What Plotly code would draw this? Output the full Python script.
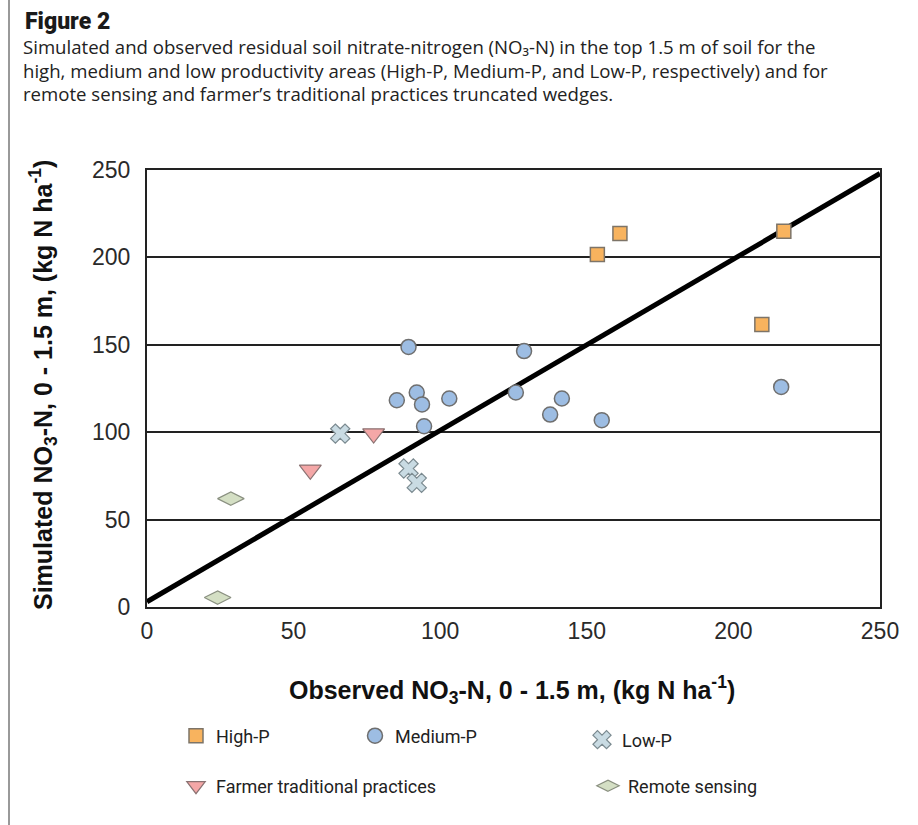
import plotly.graph_objects as go

# ---- data ----
high_x = [153.6, 161.3, 217.2, 209.7]
high_y = [201.7, 213.7, 215.0, 161.6]

med_x = [89.2, 128.6, 92.0, 85.2, 93.8, 103.1, 125.8, 141.5, 137.5, 155.1, 94.5, 216.3]
med_y = [148.8, 146.4, 122.7, 118.3, 115.9, 119.3, 122.7, 119.3, 110.1, 106.9, 103.4, 125.9]

low_x = [65.9, 89.2, 92.0]
low_y = [99.2, 79.2, 71.0]

farmer_x = [77.3, 55.7]
farmer_y = [99.2, 78.5]

remote_x = [28.6, 24.1]
remote_y = [62.0, 5.4]

line_x = [0, 250]
line_y = [3, 248]

tick_vals = [0, 50, 100, 150, 200, 250]

caption_lines = [
    "Simulated and observed residual soil nitrate-nitrogen (NO₃-N) in the top 1.5 m of soil for the",
    "high, medium and low productivity areas (High-P, Medium-P, and Low-P, respectively) and for",
    "remote sensing and farmer’s traditional practices truncated wedges.",
]

# ---- layout geometry (pixels) ----
W, H = 918, 825
L, R, T, B = 147, 38, 170, 218
pw, ph = W - L - R, H - T - B


def px(xp):
    return (xp - L) / pw


def py(yp):
    return (H - B - yp) / ph


fig = go.Figure()

fig.add_trace(go.Scatter(x=line_x, y=line_y, mode="lines",
                         line=dict(color="black", width=5), showlegend=False,
                         hoverinfo="skip"))

legend_font = dict(family="Roboto, Arial", size=18, color="#222")

series = [
    ("High-P", high_x, high_y, dict(symbol="square", size=14, color="#f8b35e",
                                   line=dict(color="#7d7468", width=1.5)), "legend"),
    ("Medium-P", med_x, med_y, dict(symbol="circle", size=15, color="#9dbde3",
                                   line=dict(color="#6f6f6f", width=1.5)), "legend2"),
    ("Low-P", low_x, low_y, dict(symbol="x", size=17, color="#c9dbe3",
                                line=dict(color="#7b8a90", width=1.2)), "legend3"),
    ("Farmer traditional practices", farmer_x, farmer_y,
     dict(symbol="triangle-down", size=19, color="#f4a7a7",
          line=dict(color="#8a7272", width=1.2)), "legend4"),
    ("Remote sensing", remote_x, remote_y,
     dict(symbol="diamond-wide", size=19, color="#d4dfc4",
          line=dict(color="#8a9080", width=1.2)), "legend5"),
]

for name, xs, ys, mk, lg in series:
    fig.add_trace(go.Scatter(x=xs, y=ys, mode="markers", name=name, marker=mk,
                             legend=lg))

axis_font = dict(family="Liberation Sans, Arial", size=23, color="#2a2a2a")

fig.update_xaxes(range=[0, 250], tickvals=tick_vals, showgrid=False, zeroline=False,
                 showline=True, linecolor="#222", linewidth=2, mirror=True,
                 ticks="", tickfont=axis_font, ticklabelstandoff=2)
fig.update_yaxes(range=[0, 250], tickvals=tick_vals, showgrid=True, gridcolor="#222",
                 gridwidth=1.5, zeroline=False, showline=True, linecolor="#222",
                 linewidth=2, mirror=True, ticks="", tickfont=axis_font,
                 ticklabelstandoff=10)

title_font = dict(family="Liberation Sans, Arial", size=25, color="#111")

legends = {}
positions = [(176, 736), (355, 736), (582, 740), (176, 786), (588, 786)]
for i, (xp, yp) in enumerate(positions):
    key = "legend" if i == 0 else f"legend{i + 1}"
    legends[key] = dict(x=px(xp), y=py(yp), xanchor="left", yanchor="middle",
                        font=legend_font, bgcolor="rgba(0,0,0,0)",
                        borderwidth=0, itemclick=False)

annotations = [
    dict(text="Figure 2", x=px(23), y=py(21), xref="paper", yref="paper",
         xanchor="left", yanchor="middle", showarrow=False,
         font=dict(family="Roboto, Arial", size=23, color="#1a1a1a", weight=900)),
    dict(text="<b>Observed NO<sub>3</sub>-N, 0 - 1.5 m, (kg N ha<sup>-1</sup>)</b>",
         x=px(512), y=py(690), xref="paper", yref="paper",
         xanchor="center", yanchor="middle", showarrow=False, font=title_font),
    dict(text="<b>Simulated NO<sub>3</sub>-N, 0 - 1.5 m, (kg N ha<sup>-1</sup>)</b>",
         x=px(43), y=py(385), xref="paper", yref="paper", textangle=-90,
         xanchor="center", yanchor="middle", showarrow=False, font=title_font),
]
for i, line in enumerate(caption_lines):
    annotations.append(dict(text=line, x=px(21), y=py(47 + 23 * i), xref="paper",
                            yref="paper", xanchor="left", yanchor="middle",
                            showarrow=False,
                            font=dict(family="Open Sans, Arial", size=18.6, color="#222")))

fig.update_layout(
    width=W, height=H,
    margin=dict(l=L, r=R, t=T, b=B),
    plot_bgcolor="white", paper_bgcolor="white",
    **legends,
    annotations=annotations,
    shapes=[dict(type="line", xref="paper", yref="paper", x0=px(9), x1=px(9),
                 y0=py(0), y1=py(825), line=dict(color="#999", width=2))],
)

fig.write_html("out.html")
